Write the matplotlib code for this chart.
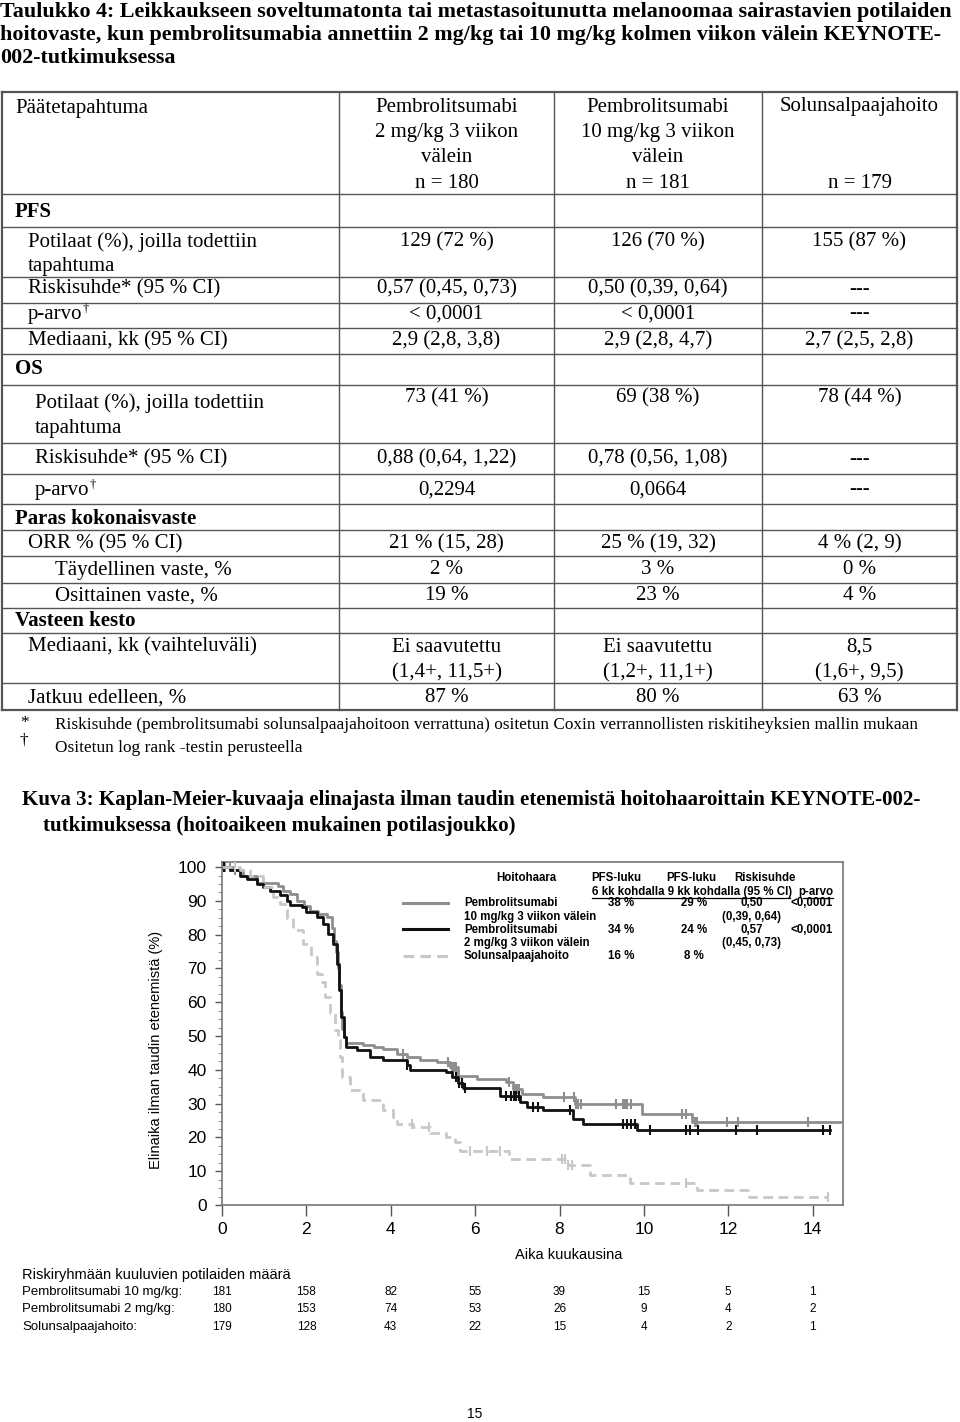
import numpy as np
import matplotlib
matplotlib.use('Agg')
import matplotlib.pyplot as plt
from matplotlib.transforms import blended_transform_factory

# ---- table data ----
title_lines = [
    "Taulukko 4: Leikkaukseen soveltumatonta tai metastasoitunutta melanoomaa sairastavien potilaiden",
    "hoitovaste, kun pembrolitsumabia annettiin 2 mg/kg tai 10 mg/kg kolmen viikon välein KEYNOTE-",
    "002-tutkimuksessa",
]
head_first = "Päätetapahtuma"
head_cols = [
    ["Pembrolitsumabi", "2 mg/kg 3 viikon", "välein", "n = 180"],
    ["Pembrolitsumabi", "10 mg/kg 3 viikon", "välein", "n = 181"],
    ["Solunsalpaajahoito", "", "", "n = 179"],
]
row_labels = [
    ["PFS"],
    ["Potilaat (%), joilla todettiin", "tapahtuma"],
    ["Riskisuhde* (95 % CI)"],
    ["p-arvo"],
    ["Mediaani, kk (95 % CI)"],
    ["OS"],
    ["Potilaat (%), joilla todettiin", "tapahtuma"],
    ["Riskisuhde* (95 % CI)"],
    ["p-arvo"],
    ["Paras kokonaisvaste"],
    ["ORR % (95 % CI)"],
    ["Täydellinen vaste, %"],
    ["Osittainen vaste, %"],
    ["Vasteen kesto"],
    ["Mediaani, kk (vaihteluväli)"],
    ["Jatkuu edelleen, %"],
]
row_values = [
    None,
    ["129 (72 %)", "126 (70 %)", "155 (87 %)"],
    ["0,57 (0,45, 0,73)", "0,50 (0,39, 0,64)", "---"],
    ["< 0,0001", "< 0,0001", "---"],
    ["2,9 (2,8, 3,8)", "2,9 (2,8, 4,7)", "2,7 (2,5, 2,8)"],
    None,
    ["73 (41 %)", "69 (38 %)", "78 (44 %)"],
    ["0,88 (0,64, 1,22)", "0,78 (0,56, 1,08)", "---"],
    ["0,2294", "0,0664", "---"],
    None,
    ["21 % (15, 28)", "25 % (19, 32)", "4 % (2, 9)"],
    ["2 %", "3 %", "0 %"],
    ["19 %", "23 %", "4 %"],
    None,
    ["Ei saavutettu\n(1,4+, 11,5+)", "Ei saavutettu\n(1,2+, 11,1+)", "8,5\n(1,6+, 9,5)"],
    ["87 %", "80 %", "63 %"],
]
footnotes = [
    ("*", "Riskisuhde (pembrolitsumabi solunsalpaajahoitoon verrattuna) ositetun Coxin verrannollisten riskitiheyksien mallin mukaan"),
    ("†", "Ositetun log rank -testin perusteella"),
]
fig_title = ["Kuva 3: Kaplan-Meier-kuvaaja elinajasta ilman taudin etenemistä hoitohaaroittain KEYNOTE-002-",
             "tutkimuksessa (hoitoaikeen mukainen potilasjoukko)"]

# ---- Kaplan-Meier data (months, % without progression) ----
t_10 = [0, 0.25, 0.5, 0.82, 1.33, 1.45, 1.61, 1.77, 1.95, 2.09, 2.28, 2.5, 2.6, 2.65, 2.7, 2.74,
        2.78, 2.81, 2.85, 2.88, 2.95, 3.35, 3.6, 3.82, 4.14, 4.38, 4.69, 5.1, 5.4, 5.6, 6.04,
        6.74, 6.9, 7.1, 7.6, 8.36, 9.95, 11.15]
s_10 = [100, 99, 97.5, 95.4, 94.5, 93, 92, 90, 88.5, 87, 86.2, 85.2, 82, 78, 75, 70,
        65, 57, 52, 49.8, 47.8, 47.3, 46.8, 46.3, 44.8, 43.8, 42.9, 42.4, 40.8, 38.3, 37.4,
        36.4, 34.4, 32.9, 31.9, 30.0, 27.0, 24.6]
end_10 = 14.72
cens_10 = [0.08, 0.2, 0.3, 4.3, 5.35, 5.45, 5.5, 5.55, 5.6, 6.8, 6.95, 7.0, 7.05, 8.1, 8.35, 8.4,
           8.45, 8.5, 9.35, 9.5, 9.55, 9.6, 9.7, 10.9, 11.0, 11.2, 11.25, 11.96, 12.24, 13.9]

t_2 = [0, 0.2, 0.43, 0.6, 0.82, 0.98, 1.14, 1.37, 1.53, 1.61, 1.89, 2.0, 2.24, 2.4, 2.52, 2.64,
       2.72, 2.78, 2.81, 2.88, 2.95, 3.19, 3.51, 3.82, 4.38, 4.45, 5.32, 5.45, 5.6, 5.72,
       6.59, 7.06, 7.22, 7.61, 8.33, 8.56, 9.83]
s_2 = [100, 99, 97.5, 96.5, 95, 94, 93, 91.6, 90, 88.7, 88.2, 86.7, 85.2, 83.3, 80.3, 77.3,
       71.4, 63.5, 55.7, 49.8, 46.8, 45.8, 43.8, 42.9, 41.4, 40, 39.4, 38, 36, 34.7,
       32.4, 30.5, 29, 28, 25.5, 24.1, 22.1]
end_2 = 14.41
cens_2 = [0.05, 4.38, 5.55, 5.62, 5.68, 5.75, 6.74, 6.85, 6.92, 6.98, 7.05, 7.38, 7.5, 8.25,
          9.51, 9.6, 9.7, 9.8, 10.14, 11.0, 11.1, 11.28, 12.19, 12.67, 14.25, 14.41]

t_ch = [0, 0.43, 0.66, 0.98, 1.22, 1.37, 1.53, 1.69, 1.93, 2.12, 2.24, 2.36, 2.44, 2.56, 2.68,
        2.76, 2.8, 2.84, 3.03, 3.35, 3.82, 4.06, 4.14, 4.53, 4.93, 5.32, 5.52, 5.64, 6.8,
        8.2, 8.72, 9.67, 11.25, 12.5]
s_ch = [100, 99, 97.5, 94, 91, 89, 85, 81.3, 77.3, 73.4, 68.5, 66, 61.6, 56.7, 51.7,
        48.8, 43.8, 38, 34, 31, 28.1, 26.1, 24.1, 23.2, 21.2, 20.2, 18.5, 16, 13.5,
        11.8, 9.0, 6.4, 4.3, 2.3]
end_ch = 14.36
cens_ch = [0.3, 4.5, 4.9, 5.88, 6.28, 6.59, 8.05, 8.13, 8.2, 8.3, 11.0, 14.36]

# ---- legend table ----
leg_head = ["Hoitohaara", "PFS-luku", "PFS-luku", "Riskisuhde"]
leg_sub = ["6 kk kohdalla 9 kk kohdalla (95 % CI)", "p-arvo"]
leg_arms = ["Pembrolitsumabi", "10 mg/kg 3 viikon välein", "Pembrolitsumabi",
            "2 mg/kg 3 viikon välein", "Solunsalpaajahoito"]
leg_pfs6 = ["38 %", "", "34 %", "", "16 %"]
leg_pfs9 = ["29 %", "", "24 %", "", "8 %"]
leg_hr = ["0,50", "(0,39, 0,64)", "0,57", "(0,45, 0,73)", ""]
leg_p = ["<0,0001", "", "<0,0001", "", ""]

# ---- number at risk ----
risk_times = [0, 2, 4, 6, 8, 10, 12, 14]
risk_labels = ["Pembrolitsumabi 10 mg/kg:", "Pembrolitsumabi 2 mg/kg:", "Solunsalpaajahoito:"]
risk_10 = [181, 158, 82, 55, 39, 15, 5, 1]
risk_2 = [180, 153, 74, 53, 26, 9, 4, 2]
risk_ch = [179, 128, 43, 22, 15, 4, 2, 1]

W, H = 960, 1422
SERIF = 'Liberation Serif'
SANS = 'Liberation Sans'

fig = plt.figure(figsize=(W / 100, H / 100), dpi=100)
bg = fig.add_axes([0, 0, 1, 1])
bg.set_xlim(0, W)
bg.set_ylim(H, 0)
bg.axis('off')


def txt(x, y, s, size=15, weight='normal', ha='left', family=SERIF, **kw):
    return bg.text(x, y, s, fontsize=size, fontweight=weight, ha=ha, va='center',
                   family=family, **kw)


#Title
for i, line in enumerate(title_lines):
    txt(0, 12 + i * 23, line, size=15.8, weight='bold')

#Table grid
h_lines = [92, 194, 227, 277, 303, 328, 354, 385, 443, 474, 504, 530, 556, 583, 608, 633, 683, 710]
v_lines = [2, 339, 554, 762, 957]
for y in h_lines:
    lw = 1.6 if y in (92, 710) else 1.0
    bg.plot([v_lines[0], v_lines[-1]], [y, y], color='#555555', lw=lw)
for x in v_lines:
    lw = 1.6 if x in (2, 957) else 1.0
    bg.plot([x, x], [92, 710], color='#555555', lw=lw)

col_x = [(v_lines[i] + v_lines[i + 1]) / 2 for i in range(1, 4)]
txt(15, 108, head_first)
head_y = [107, 133, 158, 183]
for cx, lines in zip(col_x, head_cols):
    for hy, line in zip(head_y, lines):
        txt(cx, hy, line, ha='center')

label_y = [212, 242, 289, 314, 341, 369, 403, 459, 490, 519, 544, 570, 596, 621, 647, 698]
label_x = [15, 28, 28, 28, 28, 15, 35, 35, 35, 15, 28, 55, 55, 15, 28, 28]
value_y = [212, 242, 289, 314, 341, 369, 398, 459, 490, 519, 544, 570, 596, 621, 647, 698]
for k, lines in enumerate(row_labels):
    bold = row_values[k] is None
    for j, line in enumerate(lines):
        t = txt(label_x[k], label_y[k] + j * 25, line, weight='bold' if bold else 'normal')
    if lines[0] == "p-arvo":
        bg.annotate("†", xy=(1, 0.78), xycoords=t, fontsize=9, family=SERIF,
                    ha='left', va='center')
    if row_values[k] is not None:
        for cx, val in zip(col_x, row_values[k]):
            for j, part in enumerate(val.split("\n")):
                txt(cx, value_y[k] + j * 26, part, ha='center')

#Footnotes
txt(20, 723, footnotes[0][0], size=12.4)
txt(55, 725, footnotes[0][1], size=12.4)
txt(20, 740, footnotes[1][0], size=12.4)
txt(55, 748, footnotes[1][1], size=12.4)

#Figure title
txt(22, 800, fig_title[0], size=15.1, weight='bold')
txt(43, 826, fig_title[1], size=15.1, weight='bold')

#Kaplan-Meier plot
ax = fig.add_axes([222 / W, 1 - 1205 / H, (843 - 222) / W, (1205 - 862) / H])
ax.set_facecolor('none')
ax.set_xlim(0, 14.72)
ax.set_ylim(0, 101.5)

arms = [
    (t_10, s_10, end_10, cens_10, '#8e8e8e', '-'),
    (t_2, s_2, end_2, cens_2, '#111111', '-'),
    (t_ch, s_ch, end_ch, cens_ch, '#c8c8c8', (0, (3.5, 2))),
]
for t, s, end, cens, col, ls in arms:
    tt = np.append(t, end)
    ss = np.append(s, s[-1])
    ax.step(tt, ss, where='post', color=col, lw=2, linestyle=ls, zorder=3)
    idx = np.searchsorted(t, cens, side='right') - 1
    cy = np.array(s)[idx]
    ax.plot(cens, cy, linestyle='none', marker='|', markersize=7, mew=1.5, color=col, zorder=3)

ax.set_xticks(risk_times)
ax.set_yticks(range(0, 101, 10))
ax.set_yticks(np.arange(0, 101, 2.5), minor=True)
ax.tick_params(axis='x', direction='out', length=8, width=1, color='#555555', pad=4,
               labelsize=12.5)
ax.tick_params(axis='y', which='major', direction='out', length=5, width=1, color='#555555',
               pad=6, labelsize=12.5)
ax.tick_params(axis='y', which='minor', direction='out', length=3, width=0.8, color='#999999')
for lab in ax.get_xticklabels() + ax.get_yticklabels():
    lab.set_family(SANS)
for sp in ax.spines.values():
    sp.set_color('#777777')
    sp.set_linewidth(1.2)

txt(515, 1255, "Aika kuukausina", size=10.5, family=SANS)
txt(156, 1050, "Elinaika ilman taudin etenemistä (%)", size=10.5, family=SANS,
    ha='center', rotation=90)

#Legend table inside plot
lsize = 8.3
for x, s in zip([526, 616, 691, 765], leg_head):
    txt(x, 878, s, size=lsize, weight='bold', ha='center', family=SANS)
txt(592, 892, leg_sub[0], size=lsize, weight='bold', family=SANS)
txt(833, 892, leg_sub[1], size=lsize, weight='bold', ha='right', family=SANS)
bg.plot([592, 790], [898, 898], color='black', lw=0.9)
bg.plot([803, 833], [898, 898], color='black', lw=0.9)
row_y = [903, 917, 930, 943, 956]
for k, y in enumerate(row_y):
    txt(464, y, leg_arms[k], size=lsize, weight='bold', family=SANS)
    txt(621, y, leg_pfs6[k], size=lsize, weight='bold', ha='center', family=SANS)
    txt(694, y, leg_pfs9[k], size=lsize, weight='bold', ha='center', family=SANS)
    txt(752, y, leg_hr[k], size=lsize, weight='bold', ha='center', family=SANS)
    txt(833, y, leg_p[k], size=lsize, weight='bold', ha='right', family=SANS)
for y, (_, _, _, _, col, ls) in zip([903, 929, 956], arms):
    bg.plot([403, 448], [y, y], color=col, lw=2.2, linestyle=ls)

#Number at risk
txt(22, 1275, "Riskiryhmään kuuluvien potilaiden määrä", size=10.5, family=SANS)
tr = blended_transform_factory(ax.transData, bg.transData)
for y, lab, vals in zip([1292, 1309, 1327], risk_labels, [risk_10, risk_2, risk_ch]):
    txt(22, y, lab, size=9.5, family=SANS)
    for tm, v in zip(risk_times, vals):
        bg.text(tm, y, str(v), transform=tr, fontsize=8.5, family=SANS, ha='center', va='center')

#Page number
txt(475, 1414, "15", size=10, family=SANS, ha='center')

plt.savefig('out.png', dpi=100)
